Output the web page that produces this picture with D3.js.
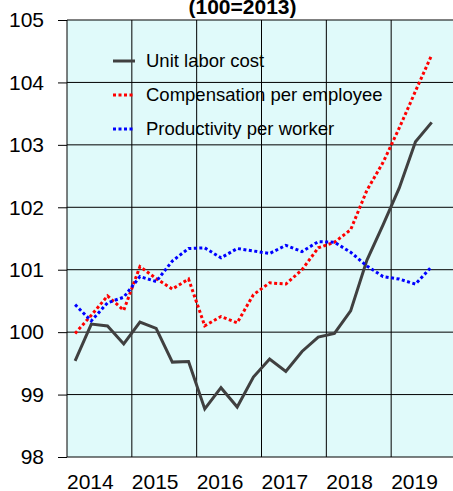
<!DOCTYPE html>
<html lang="en">
<head>
  <meta charset="UTF-8">
  <style>
    body { margin: 0; background: #fff; }
    .chart { display: block; font-family: "Liberation Sans", Arial, sans-serif; }
    .axis path { display: none; }
    .axis line { stroke: #000; }
    .axis text { fill: #000; }
  </style>
</head>
<body>
  <svg class="chart"></svg>
  <script src="https://cdnjs.cloudflare.com/ajax/libs/d3/7.8.5/d3.min.js"></script>
  <script>
    const years = [2014, 2015, 2016, 2017, 2018, 2019]
    const yTicks = [98, 99, 100, 101, 102, 103, 104, 105]
    const quarters = [
      '2014Q1', '2014Q2', '2014Q3', '2014Q4',
      '2015Q1', '2015Q2', '2015Q3', '2015Q4',
      '2016Q1', '2016Q2', '2016Q3', '2016Q4',
      '2017Q1', '2017Q2', '2017Q3', '2017Q4',
      '2018Q1', '2018Q2', '2018Q3', '2018Q4',
      '2019Q1', '2019Q2', '2019Q3'
    ]
    const unitLaborCost = [
      99.54, 100.13, 100.10, 99.81,
      100.16, 100.06, 99.52, 99.53,
      98.77, 99.11, 98.80, 99.28,
      99.57, 99.37, 99.69, 99.92,
      99.98, 100.34, 101.15, 101.72,
      102.31, 103.05, 103.36
    ]
    const compensation = [
      99.98, 100.27, 100.58, 100.35,
      101.05, 100.86, 100.69, 100.85,
      100.10, 100.25, 100.15, 100.60,
      100.79, 100.77, 101.00, 101.35,
      101.44, 101.64, 102.27, 102.72,
      103.27, 103.86, 104.44
    ]
    const productivity = [
      100.44, 100.18, 100.47, 100.56,
      100.89, 100.81, 101.14, 101.34,
      101.35, 101.19, 101.34, 101.30,
      101.26, 101.39, 101.29, 101.45,
      101.44, 101.28, 101.06, 100.89,
      100.85, 100.77, 101.05
    ]
    const seriesNames = ['Unit labor cost', 'Compensation per employee', 'Productivity per worker']

    const chart = { width: 453, height: 491 }
    const plot = { left: 67, right: 456, top: 20, bottom: 457 }

    const svg = d3.select('.chart')
      .attr('width', chart.width)
      .attr('height', chart.height)

    const x = d3.scaleLinear()
      .domain([2014, 2020])
      .range([plot.left, plot.right])
    const y = d3.scaleLinear()
      .domain([98, 105])
      .range([plot.bottom, plot.top])

    // quarter label -> position in the middle of the quarter
    const qPos = q => +q.slice(0, 4) + (+q.slice(5) - 0.5) / 4

    // plot background
    svg.append('rect')
      .attr('x', plot.left)
      .attr('y', plot.top)
      .attr('width', plot.right - plot.left)
      .attr('height', plot.bottom - plot.top)
      .attr('fill', '#e0fafa')

    // grid
    svg.append('g')
      .selectAll('line')
      .data(yTicks)
      .enter().append('line')
        .attr('x1', plot.left)
        .attr('x2', plot.right)
        .attr('y1', d => y(d))
        .attr('y2', d => y(d))
        .attr('stroke', '#000')
    svg.append('g')
      .selectAll('line')
      .data(years.concat([2020]))
      .enter().append('line')
        .attr('x1', d => x(d))
        .attr('x2', d => x(d))
        .attr('y1', plot.top)
        .attr('y2', plot.bottom)
        .attr('stroke', '#000')

    // axes
    const yAxis = svg.append('g')
      .attr('class', 'axis')
      .attr('transform', `translate(${plot.left},0)`)
      .call(d3.axisLeft(y).tickValues(yTicks).tickSize(9).tickPadding(14).tickFormat(d3.format('d')))
    yAxis.selectAll('text')
      .style('font-size', '21px')
      .style('font-family', '"Liberation Sans", Arial, sans-serif')

    const xAxis = svg.append('g')
      .attr('class', 'axis')
      .attr('transform', `translate(0,${plot.bottom})`)
      .call(d3.axisBottom(x).tickValues(years).tickSize(0).tickFormat(d3.format('d')))
    xAxis.selectAll('text')
      .attr('text-anchor', 'start')
      .attr('x', -0.5)
      .attr('y', 32)
      .attr('dy', 0)
      .style('font-size', '21px')
      .style('font-family', '"Liberation Sans", Arial, sans-serif')

    // title (partly cut off at top)
    svg.append('text')
      .attr('x', 242.5)
      .attr('y', 14)
      .attr('text-anchor', 'middle')
      .attr('font-weight', 'bold')
      .attr('font-size', 21)
      .text('(100=2013)')

    const styles = [
      { color: '#404040', dash: null, width: 3 },
      { color: '#ff0000', dash: '3,2.5', width: 3 },
      { color: '#0000ff', dash: '3,2.5', width: 3 }
    ]
    const series = [unitLaborCost, compensation, productivity]

    const line = d3.line()
      .x((d, i) => x(qPos(quarters[i])))
      .y(d => y(d))

    svg.append('g')
      .selectAll('path')
      .data(series)
      .enter().append('path')
        .attr('d', d => line(d))
        .attr('fill', 'none')
        .attr('stroke', (d, i) => styles[i].color)
        .attr('stroke-width', (d, i) => styles[i].width)
        .attr('stroke-dasharray', (d, i) => styles[i].dash)

    // legend
    const legend = svg.append('g')
      .selectAll('g')
      .data(seriesNames)
      .enter().append('g')
        .attr('transform', (d, i) => `translate(113,${61 + i * 34})`)
    legend.append('line')
      .attr('x1', 0)
      .attr('x2', 22)
      .attr('stroke', (d, i) => styles[i].color)
      .attr('stroke-width', (d, i) => styles[i].width)
      .attr('stroke-dasharray', (d, i) => styles[i].dash)
    legend.append('text')
      .attr('x', 33)
      .attr('dy', '0.35em')
      .attr('font-size', 18.5)
      .text(d => d)
  </script>
</body>
</html>
